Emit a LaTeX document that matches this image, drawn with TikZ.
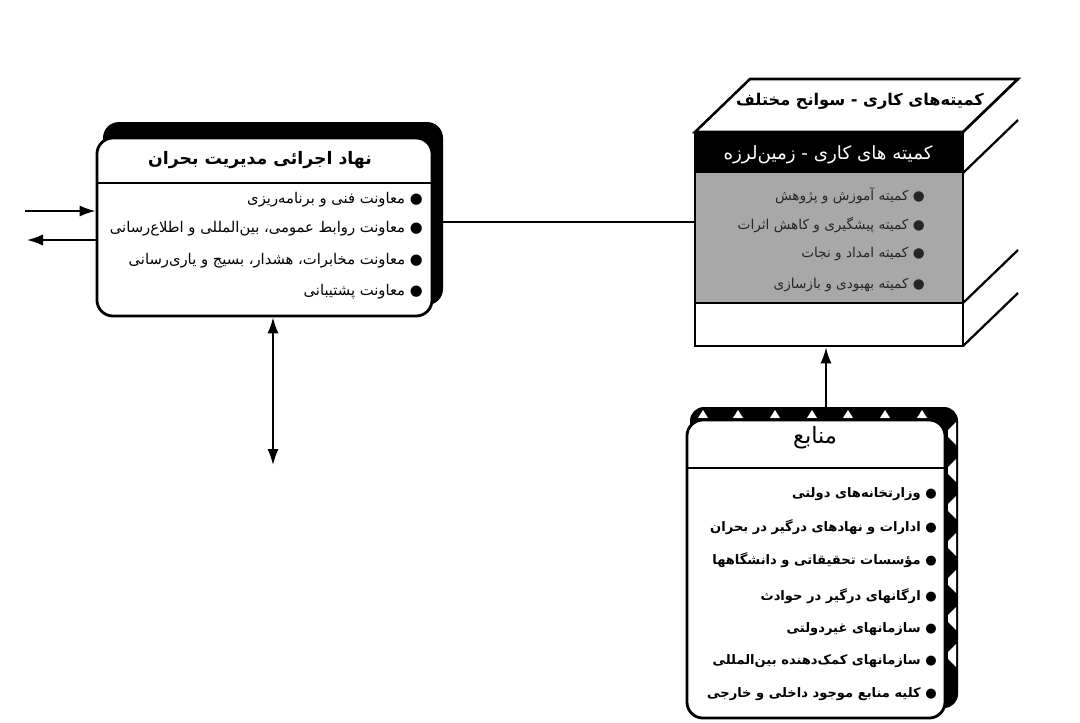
\documentclass[tikz,border=0pt]{standalone}
\usepackage{fontspec}
\usepackage{tikz}
\usetikzlibrary{arrows.meta, positioning}
\TeXXeTstate=1
\newfontfamily\fa[Script=Arabic]{DejaVu Sans}
\definecolor{stipple}{RGB}{168,168,168}

\begin{document}
\begin{tikzpicture}[x=0.025cm, y=-0.025cm,
    panel/.style={draw, line width=2pt, fill=white, rounded corners=0.4cm, inner sep=0pt},
    item/.style={anchor=east, inner sep=0pt, font=\fa\fontsize{10.5}{12}\selectfont},
    bolditem/.style={anchor=east, inner sep=0pt, font=\fa\bfseries\fontsize{9.3}{11}\selectfont},
    grayitem/.style={anchor=east, inner sep=0pt, text=black!85, font=\fa\fontsize{9.7}{11}\selectfont},
    link/.style={line width=1.3pt},
    tip/.style={-{Latex[length=4mm,width=2.8mm]}},
    both/.style={{Latex[length=4mm,width=2.8mm]}-{Latex[length=4mm,width=2.8mm]}}]
    \useasboundingbox (0,0) rectangle (1080,723);

    % executive body
    \fill[rounded corners=0.4cm] (103,122) rectangle (443,305);
    \node[panel, minimum width=8.375cm, minimum height=4.45cm] (exec) at (264.5,227) {};
    \draw[line width=1.2pt] (97,183) -- (432,183);
    \node[font=\fa\bfseries\fontsize{12.3}{14}\selectfont] (exectitle) at (260,160)
        {\beginR نهاد اجرائی مدیریت بحران\endR};
    \node[item] (exec1) at (423,200) {\beginR ● معاونت فنی و برنامه^^^^200cریزی\endR};
    \node[item] (exec2) at (423,229) {\beginR ● معاونت روابط عمومی، بین^^^^200cالمللی و اطلاع^^^^200cرسانی\endR};
    \node[item] (exec3) at (423,261) {\beginR ● معاونت مخابرات، هشدار، بسیج و یاری^^^^200cرسانی\endR};
    \node[item] (exec4) at (423,292) {\beginR ● معاونت پشتیبانی\endR};

    % working committees (box)
    \fill[black] (695,132) rectangle (963,173);
    \fill[stipple] (695,173) rectangle (963,303);
    \draw[line width=1.6pt] (695,303) -- (963,303);
    \draw[line width=1.8pt, fill=white] (695,132) -- (750,79) -- (1018,79) -- (963,132) -- cycle;
    \foreach \y in {132,173,303,346}
        \draw[line width=1.6pt] (963,\y) -- (1018,{\y-53});
    \node[draw, line width=2pt, minimum width=6.7cm, minimum height=5.35cm, inner sep=0pt] (cube) at (829,239) {};
    \node[font=\fa\bfseries\fontsize{11.5}{13}\selectfont] (cubetop) at (860,101)
        {\beginR کمیته^^^^200cهای کاری - سوانح مختلف\endR};
    \node[text=white, font=\fa\fontsize{13}{15}\selectfont] (cubeband) at (828,155)
        {\beginR کمیته های کاری - زمین^^^^200cلرزه\endR};
    \node[grayitem] (cube1) at (925,196) {\beginR ● کمیته آموزش و پژوهش\endR};
    \node[grayitem] (cube2) at (925,225) {\beginR ● کمیته پیشگیری و کاهش اثرات\endR};
    \node[grayitem] (cube3) at (925,254) {\beginR ● کمیته امداد و نجات\endR};
    \node[grayitem] (cube4) at (925,285) {\beginR ● کمیته بهبودی و بازسازی\endR};

    % resources
    \fill[rounded corners=0.35cm] (690,407) rectangle (958,708);
    \foreach \x in {703,738,775,812,848,885,922}
        \fill[white] ({\x-5},418) -- (\x,410) -- ({\x+5},418) -- cycle;
    \foreach \y in {433,470,...,690}
        \fill[white] (956,{\y-11}) -- (948,{\y-3}) -- (948,{\y+4}) -- (956,{\y+12}) -- cycle;
    \node[panel, minimum width=6.45cm, minimum height=7.45cm] (res) at (816,569) {};
    \draw[line width=1.2pt] (687,468) -- (945,468);
    \node[font=\fa\fontsize{16}{18}\selectfont] (restitle) at (815,438) {\beginR منابع\endR};
    \node[bolditem] (res1) at (937,494) {\beginR ● وزارتخانه^^^^200cهای دولتی\endR};
    \node[bolditem] (res2) at (937,527) {\beginR ● ادارات و نهادهای درگیر در بحران\endR};
    \node[bolditem] (res3) at (937,560) {\beginR ● مؤسسات تحقیقاتی و دانشگاهها\endR};
    \node[bolditem] (res4) at (937,596) {\beginR ● ارگانهای درگیر در حوادث\endR};
    \node[bolditem] (res5) at (937,629) {\beginR ● سازمانهای غیردولتی\endR};
    \node[bolditem] (res6) at (937,661) {\beginR ● سازمانهای کمک^^^^200cدهنده بین^^^^200cالمللی\endR};
    \node[bolditem] (res7) at (937,694) {\beginR ● کلیه منابع موجود داخلی و خارجی\endR};

    % connectors
    \coordinate (level) at (0,222);
    \coordinate (inleft) at (25,211);
    \coordinate (outleft) at (27,240);
    \coordinate (down) at (273,465);
    \coordinate (restop) at (826,407);
    \draw[link] (exec.east |- level) -- (cube.west |- level);
    \draw[link, tip] (inleft) -- (inleft -| exec.west);
    \draw[link, tip] (outleft -| exec.west) -- (outleft);
    \draw[link, both] (down |- exec.south) -- (down);
    \draw[link, tip] (restop) -- (restop |- cube.south);
\end{tikzpicture}
\end{document}
